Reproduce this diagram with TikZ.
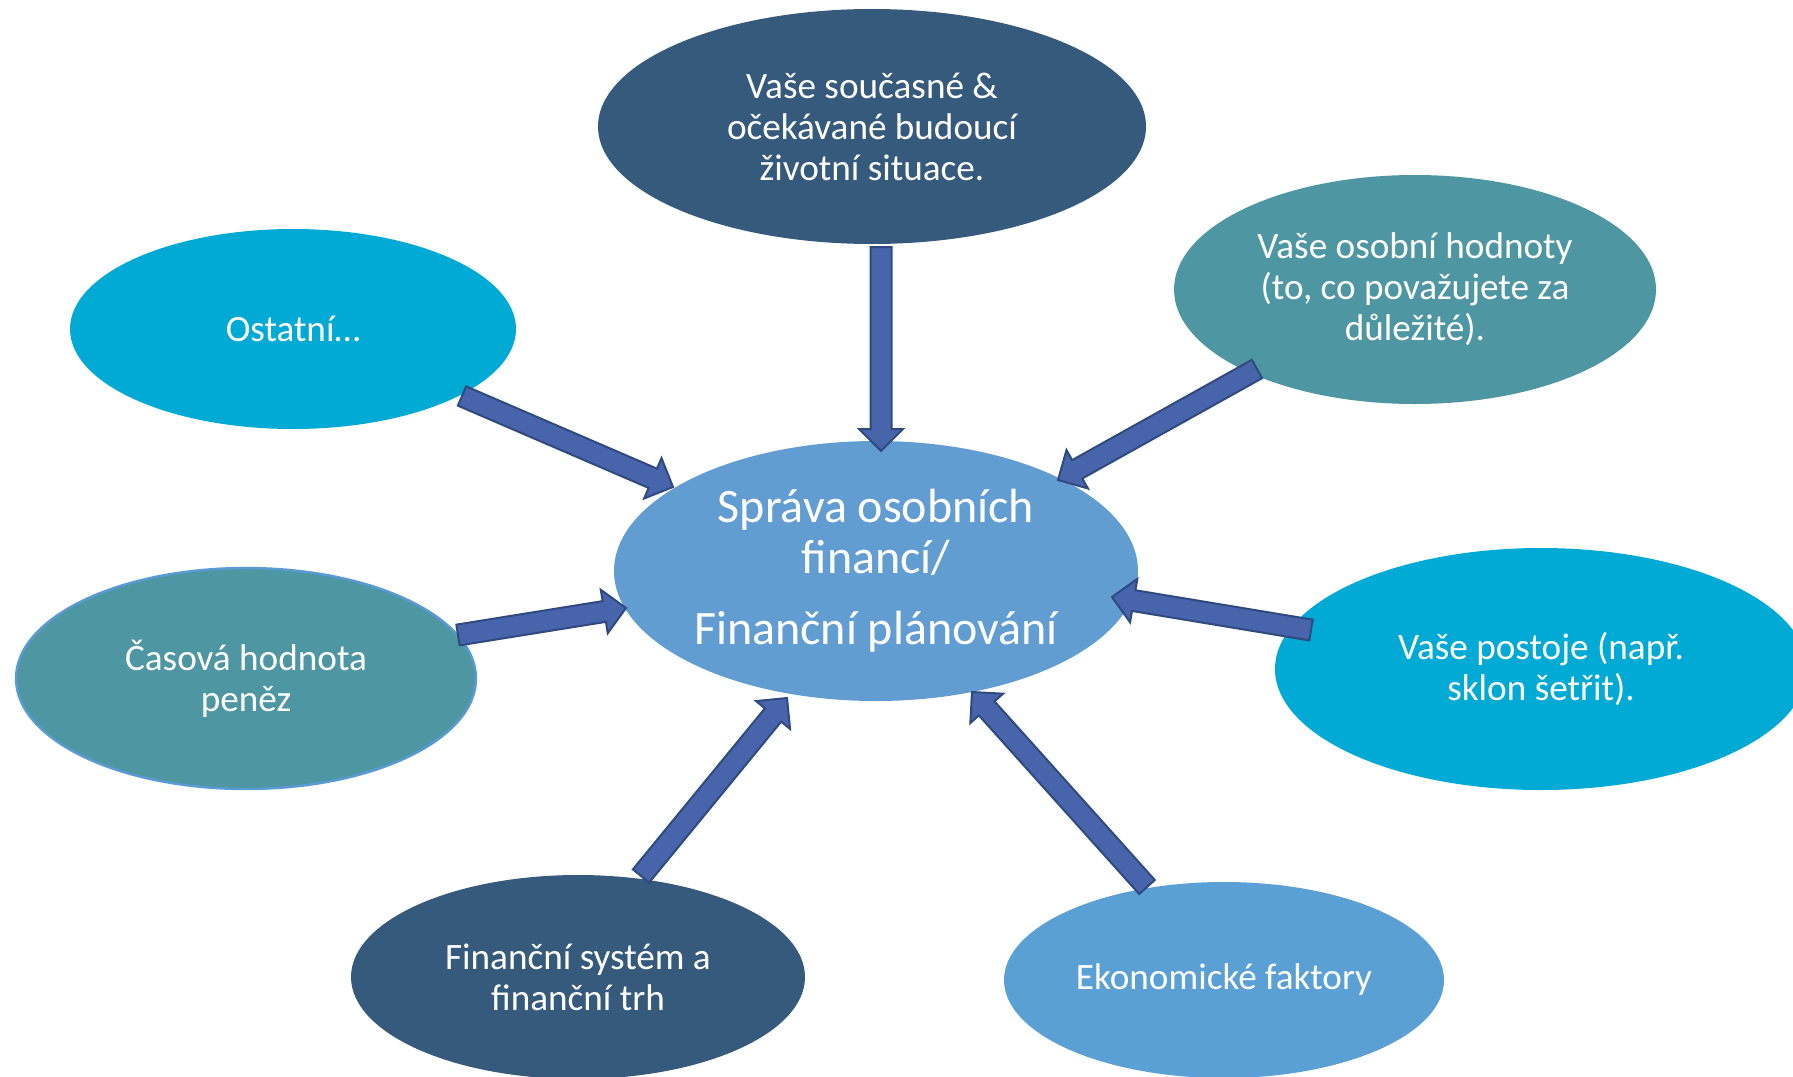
\documentclass[tikz,border=0pt]{standalone}
\usepackage{fontspec}
\setmainfont{Carlito}
\usetikzlibrary{shapes.geometric,calc}

\definecolor{navy}{HTML}{365A7C}
\definecolor{teal}{HTML}{4F96A3}
\definecolor{cyan}{HTML}{00AAD4}
\definecolor{sky}{HTML}{629DD1}
\definecolor{skyline}{HTML}{5B9BD5}
\definecolor{econ}{HTML}{5AA0D4}
\definecolor{arrowfill}{HTML}{4865AC}
\definecolor{arrowedge}{HTML}{2F4A7E}

\tikzset{
  bubble/.style={ellipse, inner sep=0pt, outer sep=0pt, text=white, align=center,
    font=\fontsize{18.6}{20.5}\selectfont},
  corebubble/.style={bubble, font=\fontsize{24}{25.5}\selectfont},
  blockarrow/.style={fill=arrowfill, draw=arrowedge, line width=1pt, line join=miter},
}

% block arrow with a triangular head, from tail #1 to tip #2
\newcommand\blockarrow[2]{%
  \coordinate (headbase) at ($(#2)!11pt!(#1)$);
  \draw[blockarrow]
    ($(#1)!5.25pt!90:(#2)$) -- ($(headbase)!5.25pt!-90:(#1)$)
    -- ($(headbase)!11pt!-90:(#1)$) -- (#2) -- ($(headbase)!11pt!90:(#1)$)
    -- ($(headbase)!5.25pt!90:(#1)$) -- ($(#1)!5.25pt!-90:(#2)$) -- cycle;}

\begin{document}
\begin{tikzpicture}[x=0.5pt, y=-0.5pt]
  \useasboundingbox (0,0) rectangle (1793,1076);
  \clip (0,0) rectangle (1793,1076);

  % surrounding factors
  \node[bubble, fill=navy, minimum width=274pt, minimum height=117.5pt] (life) at (872,126.5)
    {Vaše současné \&\\očekávané budoucí\\životní situace.};
  \node[bubble, fill=teal, minimum width=241pt, minimum height=114.5pt] (values) at (1415,289.5)
    {Vaše osobní hodnoty\\(to, co považujete za\\důležité).};
  \node[bubble, fill=cyan, minimum width=223pt, minimum height=100pt] (other) at (293,329)
    {Ostatní…};
  \node[bubble, fill=teal, draw=skyline, line width=1.2pt, minimum width=230pt, minimum height=110.5pt] (tvm) at (246,678.5)
    {Časová hodnota\\peněz};
  \node[bubble, fill=cyan, minimum width=266pt, minimum height=121pt] (attitudes) at (1541,669)
    {Vaše postoje (např.\\sklon šetřit).};
  \node[bubble, fill=navy, minimum width=227pt, minimum height=102pt] (system) at (578,977)
    {Finanční systém a\\finanční trh};
  \node[bubble, fill=econ, minimum width=220pt, minimum height=98pt] (economy) at (1224,980)
    {Ekonomické faktory};

  % central topic
  \node[corebubble, fill=sky, minimum width=262pt, minimum height=130pt] (core) at (876,571)
    {Správa osobních\\financí/\\[10pt]Finanční plánování};

  % arrow ends
  \coordinate (life-out) at (881,247);
  \coordinate (life-in) at (881,451);
  \coordinate (other-out) at (462,396);
  \coordinate (other-in) at (673,487);
  \coordinate (values-out) at (1257,369);
  \coordinate (values-in) at (1058,480);
  \coordinate (tvm-out) at (458,635);
  \coordinate (tvm-in) at (626,608);
  \coordinate (attitudes-out) at (1311,630);
  \coordinate (attitudes-in) at (1112,597);
  \coordinate (system-out) at (641,876);
  \coordinate (system-in) at (787,698);
  \coordinate (economy-out) at (1147,887);
  \coordinate (economy-in) at (972,692);

  \blockarrow{life-out}{life-in}
  \blockarrow{other-out}{other-in}
  \blockarrow{values-out}{values-in}
  \blockarrow{tvm-out}{tvm-in}
  \blockarrow{attitudes-out}{attitudes-in}
  \blockarrow{system-out}{system-in}
  \blockarrow{economy-out}{economy-in}
\end{tikzpicture}
\end{document}
